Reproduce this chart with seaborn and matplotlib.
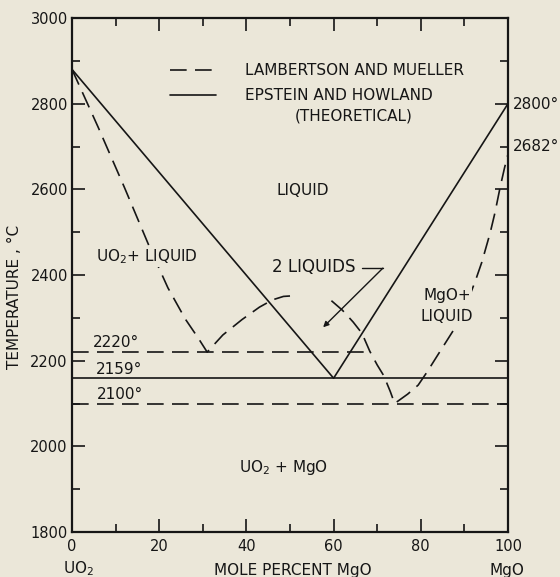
import numpy as np
import pandas as pd
import matplotlib.pyplot as plt
import seaborn as sns
from matplotlib.lines import Line2D
from matplotlib.ticker import MultipleLocator

# values read off the UO2 - MgO phase diagram
# Lambertson and Mueller (dashed) liquidus / miscibility gap
lm_left_x = [0, 6, 12, 18, 22, 26, 29, 31, 34.6, 39, 43, 46, 48.5, 50]
lm_left_t = [2880, 2745, 2605, 2460, 2370, 2297, 2252, 2220, 2260, 2296, 2325, 2342, 2350, 2351]
lm_right_x = [59.5, 62, 64.5, 66.5, 68.3, 70, 71.5, 73, 74,
              77, 79.4, 81.4, 84, 87.8, 90, 92.4, 94, 95.9, 97, 98.2, 99.2, 100]
lm_right_t = [2340, 2318, 2290, 2264, 2222, 2190, 2165, 2128, 2100,
              2122, 2143, 2173, 2215, 2276, 2320, 2383, 2430, 2498, 2545, 2605, 2650, 2682]
lm_monotectic_x = [0, 68.3]
lm_monotectic_t = [2220, 2220]
lm_eutectic_x = [0, 100]
lm_eutectic_t = [2100, 2100]

# Epstein and Howland (solid, theoretical)
eh_x = [0, 60, 100]
eh_t = [2880, 2159, 2800]
eh_eutectic_x = [0, 100]
eh_eutectic_t = [2159, 2159]

x_ticks = [0, 20, 40, 60, 80, 100]
y_ticks = [1800, 2000, 2200, 2400, 2600, 2800, 3000]

bg = "#ebe7d9"
ink = "#161616"

sns.set_theme(style="ticks")
plt.rcParams["font.family"] = ["DejaVu Sans"]

fig = plt.figure(figsize=(5.6, 5.77), dpi=100, facecolor=bg)
ax = fig.add_axes([72 / 560, 1 - 532 / 577, 436 / 560, 514 / 577])
ax.set_facecolor(bg)

dash = dict(color=ink, linewidth=1.2)
solid = dict(color=ink, linewidth=1.2)

def seg(x, t, **kw):
    df = pd.DataFrame({"x": x, "t": t})
    sns.lineplot(data=df, x="x", y="t", sort=False, estimator=None, ax=ax, **kw)

seg(lm_left_x, lm_left_t, linestyle="--", **dash)
seg(lm_right_x, lm_right_t, linestyle="--", **dash)
seg(lm_monotectic_x, lm_monotectic_t, linestyle="--", **dash)
seg(lm_eutectic_x, lm_eutectic_t, linestyle="--", **dash)
seg(eh_x, eh_t, **solid)
seg(eh_eutectic_x, eh_eutectic_t, **solid)

for l in ax.lines:
    if l.get_linestyle() == "--":
        l.set_dashes((10, 5))
        l.set_dash_capstyle("butt")

ax.set_xlim(0, 100)
ax.set_ylim(1800, 3000)
ax.set_xticks(x_ticks)
ax.set_yticks(y_ticks)
ax.xaxis.set_minor_locator(MultipleLocator(10))
ax.yaxis.set_minor_locator(MultipleLocator(100))
ax.tick_params(which="both", direction="in", top=True, right=True,
               width=1.2, color=ink, labelcolor=ink, labelsize=10.5)
ax.tick_params(which="major", length=9.5)
ax.tick_params(which="minor", length=5.5)
ax.tick_params(axis="x", pad=5)
ax.tick_params(axis="y", pad=3)
for s in ax.spines.values():
    s.set_linewidth(1.6)
    s.set_color(ink)

fs = 11
ax.set_xlabel("MOLE PERCENT MgO", fontsize=fs, color=ink, va="baseline")
ax.xaxis.set_label_coords(0.507, -0.0835)
ax.set_ylabel("TEMPERATURE , °C", fontsize=fs, color=ink)
ax.yaxis.set_label_coords(-0.115, 0.457)
ax.text(0.014, -0.081, "UO$_2$", transform=ax.transAxes, ha="center", va="baseline",
        fontsize=fs, color=ink)
ax.text(0.998, -0.0835, "MgO", transform=ax.transAxes, ha="center", va="baseline",
        fontsize=fs, color=ink)

# legend
handles = [Line2D([], [], color=ink, linewidth=1.2, linestyle=(0, (10, 5))),
           Line2D([], [], color=ink, linewidth=1.2)]
leg = ax.legend(handles, ["LAMBERTSON AND MUELLER", "EPSTEIN AND HOWLAND"],
                loc="upper left", bbox_to_anchor=(0.225, 0.912), frameon=False,
                borderpad=0, borderaxespad=0, handlelength=3.0, handletextpad=1.9,
                labelspacing=0.65, fontsize=fs)
for t in leg.get_texts():
    t.set_color(ink)
ax.text(64.6, 2771, "(THEORETICAL)", ha="center", va="center", fontsize=fs, color=ink)

# region labels (masked so curves break behind them)
mask = dict(facecolor=bg, edgecolor="none", pad=0.5)
ax.text(53, 2598, "LIQUID", ha="center", va="center", fontsize=fs, color=ink)
ax.text(17.2, 2442, "UO$_2$+ LIQUID", ha="center", va="center", fontsize=fs, color=ink,
        bbox=mask, zorder=5)
ax.text(86, 2353, "MgO+", ha="center", va="center", fontsize=fs, color=ink,
        bbox=mask, zorder=5)
ax.text(86, 2302, "LIQUID", ha="center", va="center", fontsize=fs, color=ink,
        bbox=mask, zorder=5)
ax.text(48.4, 1951, "UO$_2$ + MgO", ha="center", va="center", fontsize=fs, color=ink)

# isotherm labels
ax.text(4.8, 2243, "2220°", ha="left", va="center", fontsize=fs, color=ink)
ax.text(5.5, 2180, "2159°", ha="left", va="center", fontsize=fs, color=ink)
ax.text(5.7, 2120, "2100°", ha="left", va="center", fontsize=fs, color=ink)
ax.text(101.2, 2797, "2800°", ha="left", va="center", fontsize=fs, color=ink, clip_on=False)
ax.text(101.2, 2700, "2682°", ha="left", va="center", fontsize=fs, color=ink, clip_on=False)

# 2 liquids leader
ax.text(45.9, 2418, "2 LIQUIDS", ha="left", va="center", fontsize=fs + 1, color=ink)
ax.plot([66.5, 71.3], [2416, 2416], color=ink, linewidth=1.0)
ax.annotate("", xy=(57.6, 2278), xytext=(71.3, 2416),
            arrowprops=dict(arrowstyle="-|>", color=ink, lw=1.0,
                            mutation_scale=8, shrinkA=0, shrinkB=0))

fig.savefig("out.png", dpi=100, facecolor=bg)
